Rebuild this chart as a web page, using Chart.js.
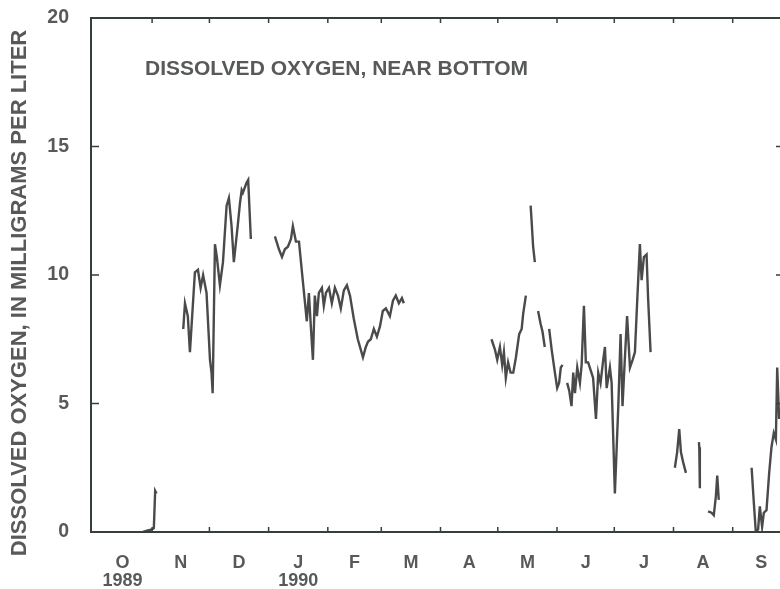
<!DOCTYPE html>
<html><head><meta charset="utf-8">
<script src="https://cdn.jsdelivr.net/npm/chart.js@4/dist/chart.umd.min.js"></script>
<style>
html,body{margin:0;padding:0;background:#fff;overflow:hidden;width:780px;height:589px;}
#wrap{position:relative;width:800px;height:589px;}
</style></head><body>
<div id="wrap"><canvas id="c" width="800" height="589"></canvas></div>
<script>
// Days since 1 Oct 1989 (water year 1990); null marks a break in the record
const days = [
  26.2, 28.3, 30.9, 31.9, 32.6, 33.3, null,
  47.3, 48.2, 49.7, 50.8, 53.4, 55.0, 56.4, 57.7, 59.5, 61.3, 62.1, 62.7, 63.9, 64.9, 66.5, 68.1,
  70.0, 71.2, 72.6, 73.8, 75.8, 77.0, 77.9, 78.5, 80.5, 81.3, 82.7, null,
  95.3, 97.4, 99.0, 100.5, 102.1, 103.7, 104.7, 106.3, 107.9, 110.0, 112.0, 113.1, 114.1, 115.2,
  116.2, 117.3, 118.3, 119.9, 120.9, 122.0, 123.6, 125.1, 126.7, 128.3, 129.8, 131.4, 133.0, 134.6,
  136.6, 138.7, 141.4, 142.9, 144.0, 145.5, 147.1, 148.7, 150.3, 151.8, 153.4, 155.5, 157.1, 158.6,
  160.2, 161.8, 162.8, null,
  208.7, 210.5, 211.7, 213.1, 214.3, 215.2, 216.2, 217.4, 218.7, 220.1, 221.5, 223.2, 224.5, 225.3, 226.7, null,
  229.2, 229.7, 230.5, 231.4, null,
  233.1, 234.4, 235.4, 236.6, null,
  238.9, 240.2, 241.9, 243.1, 244.1, 245.0, 245.9, null,
  248.3, 249.4, 250.6, 251.5, 252.4, 253.6, 255.0, 255.9, 257.1, 258.1, 259.3, 261.9, 263.4, 264.6,
  265.8, 267.2, 268.1, 269.0, 270.7, 271.6, 273.3, 275.1, 276.3, 277.3, 278.5, 279.7, 281.2, 282.6,
  283.8, 285.0, 286.4, 287.3, 288.5, 289.9, 290.7, 292.0, null,
  304.7, 305.9, 307.0, 307.9, 309.1, 310.5, null,
  317.3, 317.5, 317.8, null,
  322.1, 323.9, 325.1, 326.2, 326.9, 327.7, null,
  344.9, 346.1, 347.1, 348.3, 349.2, 350.4, 351.3, 352.7, 354.1, 355.3, 356.5, 357.6, 358.3, 359.3
];
const oxygen = [
  0.0, 0.05, 0.1, 0.15, 1.6, 1.5, null,
  7.9, 8.9, 8.4, 7.0, 10.1, 10.2, 9.5, 10.0, 9.3, 6.7, 6.2, 5.4, 11.2, 10.7, 9.6, 10.5,
  12.7, 13.0, 11.9, 10.5, 11.9, 12.8, 13.3, 13.2, 13.6, 13.7, 11.4, null,
  11.5, 11.0, 10.7, 11.0, 11.1, 11.4, 11.9, 11.3, 11.3, 9.7, 8.2, 9.3, 8.0, 6.7,
  9.2, 8.4, 9.3, 9.5, 8.8, 9.3, 9.5, 8.9, 9.5, 9.2, 8.7, 9.4, 9.6, 9.2,
  8.3, 7.5, 6.8, 7.2, 7.4, 7.5, 7.9, 7.6, 8.0, 8.6, 8.7, 8.4, 9.0, 9.2,
  8.9, 9.1, 8.9, null,
  7.5, 7.1, 6.7, 7.2, 6.5, 7.0, 6.0, 6.6, 6.2, 6.2, 6.8, 7.7, 7.9, 8.5, 9.2, null,
  12.7, 12.1, 11.1, 10.5, null,
  8.6, 8.1, 7.8, 7.2, null,
  7.9, 7.1, 6.2, 5.6, 5.8, 6.4, 6.5, null,
  5.8, 5.5, 4.9, 6.2, 5.4, 6.4, 5.8, 6.5, 8.8, 6.6, 6.6, 6.0, 4.4, 6.2,
  5.8, 6.7, 7.2, 5.6, 6.4, 5.8, 1.5, 4.9, 7.7, 4.9, 6.7, 8.4, 6.4, 6.7,
  7.0, 9.0, 11.2, 9.8, 10.7, 10.8, 9.1, 7.0, null,
  2.5, 3.1, 4.0, 3.1, 2.7, 2.3, null,
  3.5, 3.3, 1.7, null,
  0.8, 0.75, 0.65, 1.4, 2.2, 1.25, null,
  2.5, 1.1, 0.0, 0.1, 1.0, 0.2, 0.75, 0.85, 2.3, 3.3, 3.85, 3.6, 6.4, 4.4
];
const monthStarts = [0, 31, 61, 92, 123, 151, 182, 212, 243, 273, 304, 335, 365];
const monthLetters = ['O', 'N', 'D', 'J', 'F', 'M', 'A', 'M', 'J', 'J', 'A', 'S'];
const yearLabels = ['1989', '', '', '1990', '', '', '', '', '', '', '', ''];
const yTicks = [0, 5, 10, 15, 20];
const plotTitle = 'DISSOLVED OXYGEN, NEAR BOTTOM';
const yAxisTitle = 'DISSOLVED OXYGEN, IN MILLIGRAMS PER LITER';

const monthMids = monthLetters.map((m, i) => (monthStarts[i] + monthStarts[i + 1]) / 2);

const points = [];
let lastX = 0;
for (let i = 0; i < oxygen.length; i++) {
  if (oxygen[i] === null) { points.push({x: lastX, y: null}); }
  else { points.push({x: days[i], y: oxygen[i]}); lastX = days[i]; }
}

const AXIS = '#36403b';
const TEXT = '#575a59';
const FONT = '"Liberation Sans", Arial, sans-serif';

const framePlugin = {
  id: 'frame',
  afterDraw(chart) {
    const {ctx, chartArea: a, scales} = chart;
    ctx.save();
    ctx.strokeStyle = AXIS;
    ctx.lineWidth = 2;
    ctx.strokeRect(a.left, a.top, a.right - a.left, a.bottom - a.top);
    ctx.lineWidth = 1.5;
    ctx.beginPath();
    monthStarts.slice(1, -1).forEach(d => {
      const x = scales.x.getPixelForValue(d);
      ctx.moveTo(x, a.bottom); ctx.lineTo(x, a.bottom - 5);
      ctx.moveTo(x, a.top); ctx.lineTo(x, a.top + 5);
    });
    yTicks.slice(1, -1).forEach(v => {
      const y = scales.y.getPixelForValue(v);
      ctx.moveTo(a.left, y); ctx.lineTo(a.left + 8, y);
      ctx.moveTo(a.right, y); ctx.lineTo(a.right - 14, y);
    });
    ctx.stroke();
    // titles
    ctx.fillStyle = TEXT;
    ctx.font = 'bold 21px ' + FONT;
    ctx.textBaseline = 'middle';
    ctx.textAlign = 'left';
    ctx.fillText(plotTitle, a.left + 54, 69);
    ctx.translate(20, 293);
    ctx.rotate(-Math.PI / 2);
    ctx.textAlign = 'center';
    ctx.font = 'bold 22px ' + FONT;
    ctx.fillText(yAxisTitle, 0, 0);
    ctx.restore();
  }
};

new Chart(document.getElementById('c'), {
  type: 'line',
  data: {
    datasets: [{
      data: points,
      borderColor: '#4a4a4a',
      borderWidth: 2.4,
      pointRadius: 0,
      tension: 0,
      spanGaps: false,
      fill: false
    }]
  },
  options: {
    responsive: false,
    animation: false,
    devicePixelRatio: 1,
    layout: {padding: {top: 18, right: 10, left: 0, bottom: 0}},
    plugins: {legend: {display: false}, tooltip: {enabled: false}, title: {display: false}},
    scales: {
      x: {
        type: 'linear',
        min: -1,
        max: 365,
        grid: {display: false, drawTicks: false},
        border: {display: false},
        afterBuildTicks(s) { s.ticks = monthMids.map(v => ({value: v})); },
        afterFit(s) { s.height = 57; s.paddingLeft = 0; s.paddingRight = 0; },
        ticks: {
          autoSkip: false,
          maxRotation: 0,
          minRotation: 0,
          padding: 22,
          color: TEXT,
          font: {family: FONT, size: 18, weight: 'bold', lineHeight: 1.0},
          callback(v, i) { return yearLabels[i] ? [monthLetters[i], yearLabels[i]] : monthLetters[i]; }
        }
      },
      y: {
        min: 0,
        max: 20,
        grid: {display: false, drawTicks: false},
        border: {display: false},
        afterBuildTicks(s) { s.ticks = yTicks.map(v => ({value: v})); },
        afterFit(s) { s.width = 91; s.paddingTop = 0; s.paddingBottom = 0; },
        ticks: {
          padding: 22,
          color: TEXT,
          font: {family: FONT, size: 19.5, weight: 'bold'}
        }
      }
    }
  },
  plugins: [framePlugin]
});
</script>
</body></html>
